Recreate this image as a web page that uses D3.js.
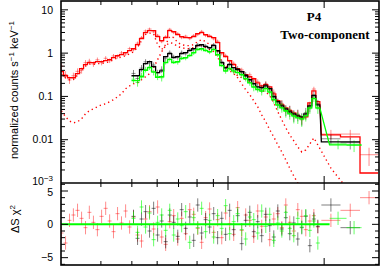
<!DOCTYPE html>
<html><head><meta charset="utf-8">
<script src="https://cdn.jsdelivr.net/npm/d3@7"></script>
<style>body{margin:0;background:#fff}svg{display:block}</style>
</head><body>
<svg id="c" width="382" height="266"></svg>
<script>
// ---------- DATA (energies in keV, values in counts s^-1 keV^-1) ----------
const redE = [0.301,0.310,0.319,0.328,0.338,0.348,0.358,0.368,0.379,0.390,
0.402,0.414,0.426,0.438,0.451,0.464,0.478,0.492,0.506,0.521,
0.536,0.552,0.568,0.585,0.602,0.620,0.638,0.657,0.676,0.696,
0.716,0.737,0.759,0.781,0.804,0.827,0.851,0.876,0.902,0.928,
0.956,0.983,1.012,1.042,1.072,1.104,1.136,1.170,1.204,1.239,
1.275,1.313,1.351,1.391,1.432,1.474,1.517,1.561,1.607,1.654,
1.702,1.752,1.804,1.857,1.911];
const redModel = [0.373,0.30,0.270,0.270,0.335,0.437,0.541,0.603,0.603,0.635,
0.635,0.67,0.707,0.786,0.875,0.923,1.03,1.14,1.27,1.57,
2.17,2.98,3.32,3.32,2.41,1.95,2.29,3.32,3.15,2.68,
2.41,2.29,2.29,2.41,2.83,2.98,2.68,2.41,2.29,1.75,
1.03,0.829,0.67,0.541,0.437,0.373,0.318,0.285,0.256,0.205,
0.175,0.186,0.167,0.115,0.0795,0.0641,0.0545,0.0466,0.0418,0.0357,
0.032,0.0338,0.0713,0.135,0.0755];
const redData = [0.50,0.32,0.24,0.30,0.38,0.40,0.60,0.65,0.56,0.70,
0.60,0.76,0.67,0.86,0.84,1.01,0.96,1.27,1.20,1.70,
2.30,3.25,3.60,3.10,2.58,1.84,2.40,3.55,2.98,2.82,
2.28,2.46,2.16,2.56,2.68,3.18,2.55,2.54,2.14,1.88,
0.97,0.88,0.64,0.58,0.40,0.41,0.30,0.315,0.242,0.218,
0.166,0.197,0.156,0.125,0.075,0.069,0.051,0.050,0.038,0.039,
0.029,0.037,0.064,0.148,0.068];
const redRelErr = [0.20,0.19,0.19,0.18,0.17,0.16,0.15,0.14,0.14,0.13,
0.13,0.12,0.12,0.11,0.11,0.11,0.10,0.10,0.09,0.09,
0.08,0.08,0.08,0.08,0.08,0.08,0.08,0.08,0.08,0.08,
0.08,0.08,0.08,0.08,0.08,0.08,0.08,0.08,0.08,0.09,
0.09,0.10,0.10,0.11,0.12,0.12,0.12,0.13,0.13,0.14,
0.14,0.14,0.15,0.16,0.18,0.19,0.20,0.21,0.22,0.23,
0.23,0.23,0.18,0.13,0.18];
const redResid = [-1.3,-2.8,0.6,1.4,2.1,0.9,-0.5,1.8,0.3,-0.8,
1.2,2.4,0.5,-1.1,1.6,0.2,2.0,-0.4,1.1,-1.6,
-2.5,0.8,1.9,-0.7,2.6,-1.9,-3.0,0.4,1.3,-2.2,
0.9,-1.4,2.2,1.5,-0.6,-2.7,1.0,2.3,-1.2,0.7,
-2.0,1.7,0.1,-1.5,2.5,-0.9,1.4,0.6,-1.8,2.0,
-0.3,1.1,-2.3,0.8,1.6,-0.5,2.9,0.3,-1.0,2.2,
1.2,-0.8,0.5,1.3,-0.4];
// wide grouped bins at the high-energy end
const redTailLo = [1.96,2.25,2.59];
const redTailHi = [2.25,2.59,2.95];
const redTailModel = [0.0129,0.0116,0.0017];
const redTailData = [0.0135,0.0135,0.0045];
const redTailRelErr = [0.25,0.25,0.45];
const redTailResid = [0.6,2.1,4.0];

// model components (dotted) on the red energy grid
const compA = [0.0466,0.0338,0.027,0.0245,0.0259,0.0304,0.0397,0.0466,0.0517,0.0576,
0.0641,0.0676,0.0755,0.0837,0.0982,0.115,0.150,0.175,0.196,0.205,
0.243,0.285,0.335,0.461,0.707,1.08,1.49,1.75,1.66,1.41,
1.34,1.27,1.27,1.34,1.49,1.49,1.34,1.21,1.08,0.786,
0.571,0.461,0.39,0.335,0.270,0.196,0.143,0.109,0.0795,0.0576,
0.0376,0.0259,0.0169,0.0116,0.0076,0.0052,0.0034,0.0022,0.00145,0.0010,
0.0007,0.0005,0.0003,0.0002,0.00015];
const compB = [0.326,0.266,0.243,0.246,0.309,0.407,0.501,0.556,0.551,0.577,
0.571,0.602,0.632,0.702,0.777,0.808,0.88,0.965,1.07,1.37,
1.93,2.70,2.90,2.80,1.57,1.21,1.57,2.41,2.29,1.75,
1.57,1.49,1.49,1.57,1.85,2.05,1.85,1.57,1.49,1.14,
0.635,0.513,0.437,0.373,0.30,0.270,0.243,0.219,0.196,0.159,
0.135,0.128,0.104,0.0713,0.0441,0.0288,0.0188,0.0129,0.0094,0.0068,
0.0052,0.0058,0.0080,0.0110,0.0076];
const compBTail = [0.0022,0.0006,0.0001];

const bgE = redE.slice(18); // black & green share the grid from 0.506 keV
const blackModel = [0.30,0.30,0.415,0.57,0.635,0.486,0.353,0.39,0.829,0.973,
0.786,0.829,0.973,1.03,1.14,1.27,1.49,1.57,1.41,1.34,
1.49,1.14,0.603,0.461,0.541,0.461,0.415,0.373,0.30,0.243,
0.196,0.167,0.159,0.175,0.151,0.0982,0.0755,0.0607,0.0517,0.0441,
0.0397,0.0357,0.0338,0.0397,0.0607,0.104,0.0641];
const blackData = [0.34,0.26,0.45,0.63,0.59,0.53,0.35,0.42,0.77,1.04,
0.83,0.79,1.04,0.97,1.22,1.20,1.58,1.48,1.48,1.28,
1.58,1.08,0.63,0.44,0.57,0.43,0.44,0.35,0.32,0.24,
0.20,0.165,0.15,0.185,0.142,0.104,0.071,0.064,0.049,0.047,
0.037,0.038,0.031,0.042,0.057,0.110,0.067];
const greenModel = [0.232,0.232,0.285,0.40,0.461,0.37,0.275,0.285,0.603,0.72,
0.603,0.635,0.746,0.786,0.875,1.03,1.21,1.27,1.14,1.08,
1.21,0.923,0.513,0.39,0.437,0.39,0.353,0.318,0.256,0.205,
0.167,0.143,0.135,0.151,0.128,0.0837,0.0641,0.0545,0.0466,0.0397,
0.0357,0.032,0.0303,0.0357,0.0545,0.0885,0.0545];
const greenData = [0.25,0.21,0.30,0.42,0.48,0.36,0.29,0.27,0.62,0.72,
0.63,0.61,0.78,0.76,0.90,1.00,1.25,1.22,1.18,1.04,
1.25,0.90,0.53,0.38,0.45,0.37,0.36,0.31,0.26,0.21,
0.16,0.15,0.13,0.155,0.124,0.087,0.062,0.056,0.045,0.041,
0.034,0.033,0.029,0.037,0.052,0.092,0.052];
const bgRelErr = [0.20,0.20,0.18,0.15,0.15,0.15,0.18,0.18,0.12,0.11,
0.11,0.11,0.11,0.10,0.10,0.10,0.09,0.09,0.09,0.09,
0.09,0.10,0.11,0.12,0.12,0.12,0.14,0.14,0.15,0.16,
0.18,0.18,0.19,0.18,0.19,0.22,0.24,0.25,0.28,0.29,
0.30,0.30,0.32,0.29,0.24,0.19,0.24];
const blackResid = [1.2,-2.1,0.8,1.9,-1.0,2.4,-1.6,0.5,-2.6,1.4,
0.3,-1.8,2.2,-0.6,1.1,-2.4,2.9,-1.3,0.7,-0.4,
1.6,-2.0,0.9,-1.5,2.1,-0.8,1.3,-2.9,0.6,1.8,
-1.1,0.4,-1.7,1.5,-0.2,-1.9,2.0,-0.7,1.0,-1.4,
0.2,-2.2,-0.5,1.2,-3.2,0.8,-0.3];
const greenResid = [0.9,-1.2,2.6,-0.4,1.7,-2.3,0.3,1.4,-0.9,2.1,
-1.6,0.8,-0.2,1.9,-2.7,1.0,-0.5,2.4,-1.1,0.6,
-1.9,1.3,-0.6,2.8,-1.4,0.4,1.6,-0.8,-2.2,1.1,
0.7,-1.3,2.0,-0.3,1.5,-2.4,0.2,-1.0,1.8,-0.6,
-1.7,0.9,-0.4,1.3,-0.9,0.5,-2.8];
const blackTailLo = [1.96,2.25], blackTailHi = [2.25,2.59];
const blackTailModel = [0.0089,0.0089], blackTailData = [0.0105,0.0085];
const blackTailRelErr = [0.25,0.3], blackTailResid = [2.9,-0.5];
const greenTailLo = [2.08,2.35], greenTailHi = [2.35,2.62];
const greenTailModel = [0.0076,0.0076], greenTailData = [0.0080,0.0074];
const greenTailRelErr = [0.25,0.3], greenTailResid = [0.9,-0.5];

const xMinorTicks = [0.4,0.5,0.6,0.7,0.8,0.9];
const xMajorTicks = [1,2];
const yTickLabels = [{v:10,t:"10"},{v:1,t:"1"},{v:0.1,t:"0.1"},{v:0.01,t:"0.01"}];
const rTickLabels = [5,0,-5];
const titleLines = ["P4","Two-component"];

// ---------- LAYOUT ----------
const L=61,R=379,T=1,MID=183,B=265;
const svg = d3.select("#c");
const x = d3.scaleLog().domain([0.3,2.97]).range([L,R]);
const y = d3.scaleLog().domain([1e-3,16]).range([MID,T]);
const yr = d3.scaleLinear().domain([-6.1,6.2]).range([B,MID]);

function bins(E, tailLo, tailHi){
  const out = E.map((e,i)=>{
    const lo = i>0 ? Math.sqrt(E[i-1]*e) : e*e/Math.sqrt(e*E[i+1]);
    const hi = i<E.length-1 ? Math.sqrt(e*E[i+1]) : e*e/Math.sqrt(E[i-1]*e);
    return {lo,hi,c:e};
  });
  tailLo.forEach((lo,i)=>out.push({lo,hi:tailHi[i],c:Math.sqrt(lo*tailHi[i])}));
  return out;
}
function series(E, model, data, rel, resid, tLo, tHi, tModel, tData, tRel, tResid){
  const b = bins(E,tLo,tHi);
  const m = model.concat(tModel), d = data.concat(tData), r = rel.concat(tRel), s = resid.concat(tResid);
  return b.map((bb,i)=>({...bb, m:m[i], d:d[i], e:d[i]*r[i], s:s[i]}));
}
const red = series(redE,redModel,redData,redRelErr,redResid,redTailLo,redTailHi,redTailModel,redTailData,redTailRelErr,redTailResid);
const black = series(bgE,blackModel,blackData,bgRelErr,blackResid,blackTailLo,blackTailHi,blackTailModel,blackTailData,blackTailRelErr,blackTailResid);
const green = series(bgE,greenModel,greenData,bgRelErr,greenResid,greenTailLo,greenTailHi,greenTailModel,greenTailData,greenTailRelErr,greenTailResid);

const defs = svg.append("defs");
defs.append("clipPath").attr("id","cm").append("rect").attr("x",L).attr("y",T).attr("width",R-L).attr("height",MID-T);
defs.append("clipPath").attr("id","cr").append("rect").attr("x",L).attr("y",MID).attr("width",R-L).attr("height",B-MID);
const gm = svg.append("g").attr("clip-path","url(#cm)");
const gr = svg.append("g").attr("clip-path","url(#cr)");

function drawData(g, s, color, op){
  const gg = g.append("g").attr("stroke",color).attr("stroke-opacity",op).attr("stroke-width",1);
  s.forEach(p=>{
    gg.append("line").attr("x1",x(p.lo)).attr("x2",x(p.hi)).attr("y1",y(p.d)).attr("y2",y(p.d));
    gg.append("line").attr("x1",x(p.c)).attr("x2",x(p.c)).attr("y1",y(Math.max(p.d-p.e,1e-4))).attr("y2",y(p.d+p.e));
  });
}
function drawModel(g, s, color){
  const pts = [];
  s.forEach(p=>{pts.push([x(p.lo),y(p.m)]);pts.push([x(p.hi),y(p.m)]);});
  g.append("path").attr("d",d3.line()(pts)).attr("fill","none").attr("stroke",color).attr("stroke-width",1.3);
}
function drawResid(g, s, color, op){
  const gg = g.append("g").attr("stroke",color).attr("stroke-opacity",op).attr("stroke-width",1);
  s.forEach(p=>{
    gg.append("line").attr("x1",x(p.lo)).attr("x2",x(p.hi)).attr("y1",yr(p.s)).attr("y2",yr(p.s));
    gg.append("line").attr("x1",x(p.c)).attr("x2",x(p.c)).attr("y1",yr(p.s-1)).attr("y2",yr(p.s+1));
  });
}
function drawComp(g, E, vals, color){
  const line = d3.line().x(d=>x(d[0])).y(d=>y(Math.max(d[1],1e-5)));
  g.append("path").attr("d",line(E.map((e,i)=>[e,vals[i]]))).attr("fill","none")
   .attr("stroke",color).attr("stroke-width",1.4).attr("stroke-dasharray","1.3 3.2");
}

drawComp(gm, redE, compA, "#ff0000");
const tailC = redTailLo.map((lo,i)=>Math.sqrt(lo*redTailHi[i]));
drawComp(gm, redE.concat(tailC), compB.concat(compBTail), "#ff0000");
drawData(gm, red, "#ff0000", 0.45);
drawModel(gm, red, "#ff0000");
drawData(gm, black, "#000000", 0.45);
drawData(gm, green, "#00ff00", 0.6);
drawModel(gm, black, "#000000");
drawModel(gm, green, "#00ff00");

drawResid(gr, red, "#ff0000", 0.45);
drawResid(gr, black, "#000000", 0.5);
drawResid(gr, green, "#00ff00", 0.6);
gr.append("line").attr("x1",L).attr("x2",x(2.08)).attr("y1",yr(0)).attr("y2",yr(0)).attr("stroke","#00ff00").attr("stroke-width",2);

// ---------- AXES / FRAME ----------
const ax = svg.append("g").attr("stroke","#000").attr("stroke-width",1);
function tick(x1,y1,x2,y2){ax.append("line").attr("x1",x1).attr("y1",y1).attr("x2",x2).attr("y2",y2);}
xMinorTicks.forEach(v=>{const px=x(v); tick(px,T,px,T+4); tick(px,MID,px,MID-4); tick(px,MID,px,MID+4); tick(px,B,px,B-4);});
xMajorTicks.forEach(v=>{const px=x(v); tick(px,T,px,T+7); tick(px,MID,px,MID-7); tick(px,MID,px,MID+7); tick(px,B,px,B-7);});
for(let d=-3; d<=1; d++){
  for(let m=1; m<=9; m++){
    const v=m*Math.pow(10,d); if(v<=1e-3||v>=16) continue;
    const len = m===1?7:4; const py=y(v);
    tick(L,py,L+len,py); tick(R,py,R-len,py);
  }
}
for(let v=-6; v<=6; v++){
  const len = (v%5===0)?7:4; const py=yr(v);
  tick(L,py,L+len,py); tick(R,py,R-len,py);
}
svg.append("rect").attr("x",L).attr("y",T).attr("width",R-L).attr("height",B-T).attr("fill","none").attr("stroke","#000").attr("stroke-width",1.6);
svg.append("line").attr("x1",L).attr("x2",R).attr("y1",MID).attr("y2",MID).attr("stroke","#000").attr("stroke-width",1.6);

// tick labels
const lab = svg.append("g").attr("font-family","'Liberation Sans', Arial, sans-serif").attr("font-size",10.5).attr("fill","#000").attr("text-anchor","end");
yTickLabels.forEach(d=>lab.append("text").attr("x",53).attr("y",y(d.v)+3.7).text(d.t));
const t3 = lab.append("text").attr("x",53).attr("y",y(1e-3)+2);
t3.append("tspan").text("10");
t3.append("tspan").attr("font-size",8).attr("dy",-4).text("−3");
rTickLabels.forEach(v=>lab.append("text").attr("x",53).attr("y",yr(v)+(v===5?5:3.7)).text(v<0?"−"+Math.abs(v):String(v)));

// axis titles
const yt = svg.append("text").attr("transform","translate(18,90) rotate(-90)").attr("text-anchor","middle")
  .attr("font-family","'Liberation Sans', Arial, sans-serif").attr("font-size",11);
yt.append("tspan").text("normalized counts s");
yt.append("tspan").attr("font-size",8).attr("dy",-4).text("−1");
yt.append("tspan").attr("dy",4).text(" keV");
yt.append("tspan").attr("font-size",8).attr("dy",-4).text("−1");
const rt = svg.append("text").attr("transform","translate(19,219) rotate(-90)").attr("text-anchor","middle")
  .attr("font-family","'Liberation Sans', Arial, sans-serif").attr("font-size",11);
rt.append("tspan").text("ΔS χ");
rt.append("tspan").attr("font-size",8).attr("dy",-4).text("2");

// title
const tt = svg.append("g").attr("font-family","'Liberation Serif','Times New Roman',serif").attr("font-weight","bold").attr("font-size",13).attr("text-anchor","middle");
tt.append("text").attr("x",314).attr("y",21).text(titleLines[0]);
tt.append("text").attr("x",325).attr("y",39).text(titleLines[1]);
</script>
</body></html>
